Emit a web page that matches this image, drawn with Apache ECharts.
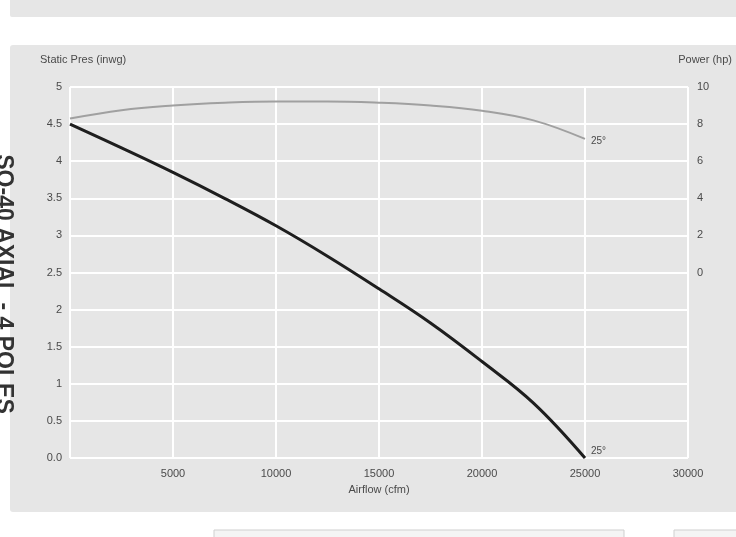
<!DOCTYPE html>
<html>
<head>
<meta charset="utf-8">
<script src="https://cdn.jsdelivr.net/npm/echarts@6/dist/echarts.min.js"></script>
<style>
html,body{margin:0;padding:0;background:#fff;}
#c{width:736px;height:537px;}
</style>
</head>
<body>
<div id="c"></div>
<script>
const airflow = [0, 2500, 5000, 7500, 10000, 12500, 15000, 17500, 20000, 22500, 25000];
const staticPres = [4.5, 4.18, 3.85, 3.5, 3.13, 2.72, 2.28, 1.82, 1.3, 0.74, 0];
const power = [8.3, 8.75, 9.0, 9.15, 9.22, 9.22, 9.15, 9.0, 8.72, 8.2, 7.2];
const bladeAngle = '25°';
const xTicks = [0, 5000, 10000, 15000, 20000, 25000, 30000];
const sideTitle = 'SQ-40 AXIAL - 4 POLES';

const chart = echarts.init(document.getElementById('c'), null, {renderer: 'canvas'});
const font = 'Liberation Sans, Arial, sans-serif';
const txt = '#4a4a4a';

chart.setOption({
  backgroundColor: '#fff',
  animation: false,
  graphic: [
    {type: 'rect', z: -10, shape: {x: 10, y: -5, width: 740, height: 22, r: 2}, style: {fill: '#e6e6e6'}},
    {type: 'rect', z: -10, shape: {x: 10, y: 45, width: 740, height: 467, r: 3}, style: {fill: '#e6e6e6'}},
    {type: 'rect', z: -10, shape: {x: 214, y: 530, width: 410, height: 20}, style: {fill: '#f4f4f4', stroke: '#cfcfcf', lineWidth: 1}},
    {type: 'rect', z: -10, shape: {x: 674, y: 530, width: 80, height: 20}, style: {fill: '#f4f4f4', stroke: '#cfcfcf', lineWidth: 1}},
    {type: 'text', z: 10, x: 3, y: 284, rotation: -Math.PI / 2,
      style: {text: sideTitle, fill: '#333', font: 'bold 23px ' + font, textAlign: 'center', textVerticalAlign: 'middle'}},
    {type: 'text', z: 10, x: 40, y: 60,
      style: {text: 'Static Pres (inwg)', fill: txt, font: '11px ' + font, textAlign: 'left', textVerticalAlign: 'middle'}},
    {type: 'text', z: 10, x: 732, y: 60,
      style: {text: 'Power (hp)', fill: txt, font: '11px ' + font, textAlign: 'right', textVerticalAlign: 'middle'}}
  ],
  grid: {left: 70, right: 48, top: 87, bottom: 79, show: false},
  xAxis: {
    type: 'value', min: xTicks[0], max: xTicks[xTicks.length - 1], interval: 5000,
    name: 'Airflow (cfm)', nameLocation: 'middle', nameGap: 26,
    nameTextStyle: {color: txt, fontSize: 11, fontFamily: font},
    axisLine: {show: false}, axisTick: {show: false},
    axisLabel: {color: txt, fontSize: 11, fontFamily: font, margin: 10,
      formatter: v => (v === 0 ? '' : String(v))},
    splitLine: {show: true, lineStyle: {color: '#ffffff', width: 2}}
  },
  yAxis: [
    {
      type: 'value', min: 0, max: 5, interval: 0.5, position: 'left',
      axisLine: {show: false}, axisTick: {show: false},
      axisLabel: {color: txt, fontSize: 11, fontFamily: font, margin: 8,
        formatter: v => (v === 0 ? '0.0' : String(v))},
      splitLine: {show: true, lineStyle: {color: '#ffffff', width: 2}}
    },
    {
      type: 'value', min: -10, max: 10, interval: 2, position: 'right',
      axisLine: {show: false}, axisTick: {show: false},
      axisLabel: {color: txt, fontSize: 11, fontFamily: font, margin: 9,
        formatter: v => (v < 0 ? '' : String(v))},
      splitLine: {show: false}
    }
  ],
  series: [
    {
      type: 'line', name: 'Power', yAxisIndex: 1, smooth: 0.4, showSymbol: false,
      data: airflow.map((x, i) => [x, power[i]]),
      lineStyle: {color: '#a0a0a0', width: 2},
      endLabel: {show: true, formatter: bladeAngle, color: txt, fontSize: 10, fontFamily: font, distance: 6, offset: [0, 2]}
    },
    {
      type: 'line', name: 'Static Pressure', yAxisIndex: 0, smooth: 0.4, showSymbol: false,
      data: airflow.map((x, i) => [x, staticPres[i]]),
      lineStyle: {color: '#1e1e1e', width: 3},
      endLabel: {show: true, formatter: bladeAngle, color: txt, fontSize: 10, fontFamily: font, distance: 6, offset: [0, -7]}
    }
  ]
});
</script>
</body>
</html>
